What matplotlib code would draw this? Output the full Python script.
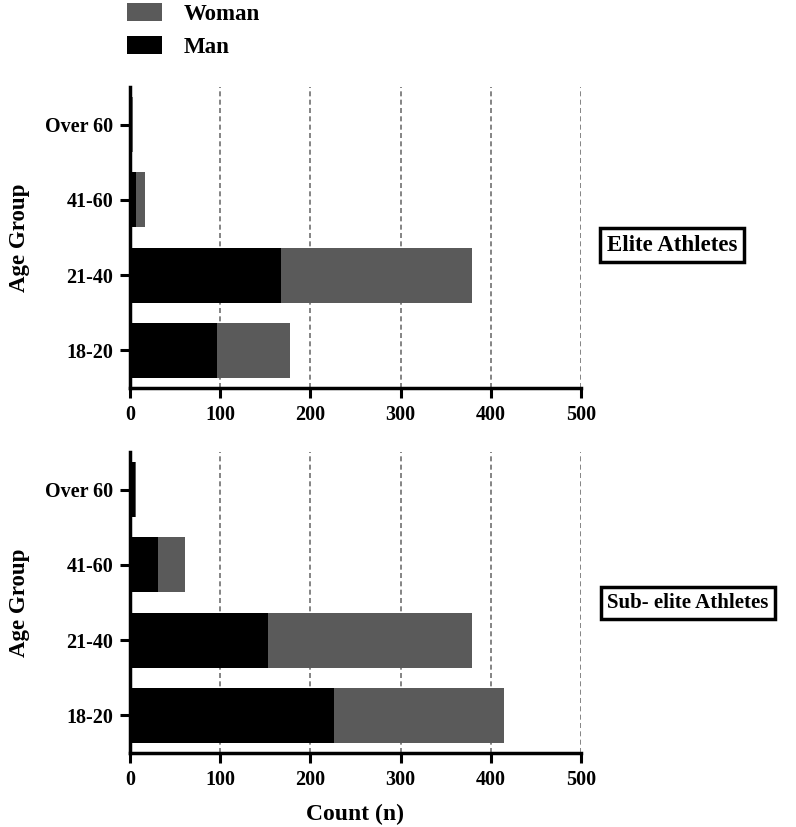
import matplotlib
matplotlib.use("Agg")
import matplotlib.pyplot as plt
from matplotlib.patches import Patch

plt.rcParams['font.family'] = ['Liberation Serif', 'DejaVu Serif']
plt.rcParams['font.weight'] = 'bold'

categories = ["18-20", "21-40", "41-60", "Over 60"]
elite_man = [97, 167, 7, 2]
elite_woman = [80, 212, 10, 1]
sub_man = [226, 153, 31, 5]
sub_woman = [189, 226, 30, 2]
x_ticks = [0, 100, 200, 300, 400, 500]
panel_titles = ["Elite Athletes", "Sub- elite Athletes"]

man_color = "#000000"
woman_color = "#5a5a5a"

fig = plt.figure(figsize=(7.96, 8.27), dpi=100)
left = 130 / 796
width = 451 / 796
height = 301 / 827
ax_top = fig.add_axes([left, 1 - 388 / 827, width, height])
ax_bot = fig.add_axes([left, 1 - 753 / 827, width, height])

panels = [
    (ax_top, elite_man, elite_woman, panel_titles[0], 0.475, 16.5),
    (ax_bot, sub_man, sub_woman, panel_titles[1], 0.498, 15),
]

for ax, man, woman, title, ty, tfs in panels:
    ypos = list(range(len(categories)))
    ax.barh(ypos, man, height=0.73, color=man_color, zorder=3)
    ax.barh(ypos, woman, left=man, height=0.73, color=woman_color, zorder=3)
    ax.set_ylim(-0.5, len(categories) - 0.5)
    ax.set_xlim(0, 500)
    ax.set_xticks(x_ticks)
    ax.set_xticklabels([str(t) for t in x_ticks], fontsize=14.5, fontweight='bold')
    ax.set_yticks(ypos)
    ax.set_yticklabels(categories, fontsize=14.5, fontweight='bold')
    for t in x_ticks[1:]:
        ax.axvline(t, color="#707070", linestyle=(0, (3, 2)), linewidth=1.2, zorder=1)
    ax.spines['top'].set_visible(False)
    ax.spines['right'].set_visible(False)
    ax.spines['left'].set_linewidth(2.5)
    ax.spines['bottom'].set_linewidth(2.5)
    ax.tick_params(axis='both', direction='out', length=7, width=2.2, pad=5)
    ax.set_ylabel("Age Group", fontsize=16.5, fontweight='bold', labelpad=11)
    ax.text(1.058, ty, title, transform=ax.transAxes, ha='left', va='center',
            fontsize=tfs, fontweight='bold',
            bbox=dict(boxstyle='square,pad=0.3', facecolor='white',
                      edgecolor='black', linewidth=2.5))

ax_bot.set_xlabel("Count (n)", fontsize=17, fontweight='bold', labelpad=10)

handles = [Patch(facecolor=woman_color, edgecolor='none', label="Woman"),
           Patch(facecolor=man_color, edgecolor='none', label="Man")]
fig.legend(handles=handles, loc='upper left', bbox_to_anchor=(106 / 796, 1.021),
           frameon=False, prop={'family': 'Liberation Serif', 'weight': 'bold', 'size': 16.5},
           handlelength=1.55, handleheight=0.8, handletextpad=0.95, labelspacing=0.5)

fig.savefig("out.png", dpi=100)
